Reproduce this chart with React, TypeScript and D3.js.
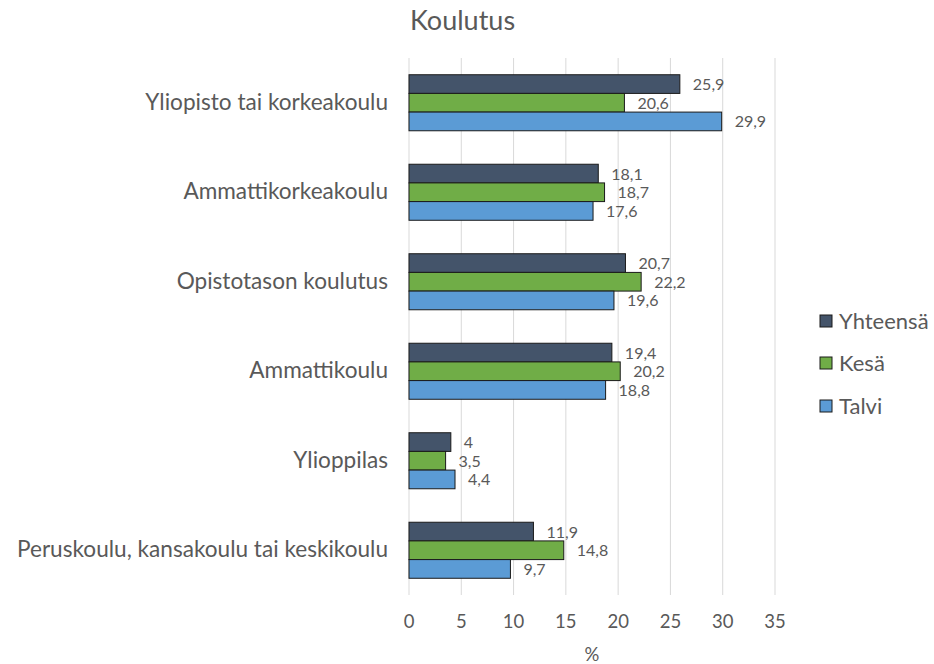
import React from "react";
import * as d3 from "d3";

const categories = [
  "Yliopisto tai korkeakoulu",
  "Ammattikorkeakoulu",
  "Opistotason koulutus",
  "Ammattikoulu",
  "Ylioppilas",
  "Peruskoulu, kansakoulu tai keskikoulu",
];
const seriesNames = ["Yhteensä", "Kesä", "Talvi"];
const yhteensa = [25.9, 18.1, 20.7, 19.4, 4, 11.9];
const kesa = [20.6, 18.7, 22.2, 20.2, 3.5, 14.8];
const talvi = [29.9, 17.6, 19.6, 18.8, 4.4, 9.7];
const xTicks = [0, 5, 10, 15, 20, 25, 30, 35];
const colors = ["#44546A", "#70AD47", "#5B9BD5"];

const W = 934;
const H = 664;
const FONT = "Lato, 'Open Sans', sans-serif";
const TXT = "#595959";

export default function App() {
  const values = [yhteensa, kesa, talvi];
  const x = d3.scaleLinear().domain([0, 35]).range([409, 775]);
  const y = d3.scaleBand<string>().domain(categories).range([58, 595]).paddingInner(0.374).paddingOuter(0.187);
  const inner = d3.scaleBand<string>().domain(seriesNames).range([0, y.bandwidth()]);
  const fmt = (v: number) => String(v).replace(".", ",");

  return (
    <svg width={W} height={H} style={{ position: "absolute", left: 0, top: 0, background: "#fff" }} fontFamily={FONT}>
      <text x={410} y={30} fontSize={27} fill={TXT}>Koulutus</text>
      {xTicks.map((t) => (
        <g key={t}>
          <line x1={x(t)} x2={x(t)} y1={58} y2={595} stroke="#D9D9D9" strokeWidth={1} />
          <text x={x(t)} y={628} textAnchor="middle" fontSize={18.5} fill={TXT}>{t}</text>
        </g>
      ))}
      <text x={x(17.5)} y={661} textAnchor="middle" fontSize={18.5} fill={TXT}>%</text>
      {categories.map((c, i) => (
        <g key={c}>
          <text x={388} y={(y(c) ?? 0) + y.bandwidth() / 2 + 7} textAnchor="end" fontSize={22.6} fill={TXT}>{c}</text>
          {seriesNames.map((s, j) => {
            const v = values[j][i];
            const by = (y(c) ?? 0) + (inner(s) ?? 0);
            return (
              <g key={s}>
                <rect x={x(0)} y={by} width={x(v) - x(0)} height={inner.bandwidth()} fill={colors[j]} stroke="#1a1a1a" strokeWidth={1} />
                <text x={x(v) + 13} y={by + inner.bandwidth() / 2 + 6} fontSize={16} fill={TXT}>{fmt(v)}</text>
              </g>
            );
          })}
        </g>
      ))}
      {seriesNames.map((s, j) => {
        const ly = [321, 363, 406][j];
        return (
          <g key={s}>
            <rect x={820} y={ly - 6} width={12} height={12} fill={colors[j]} stroke="#1a1a1a" strokeWidth={1} />
            <text x={839} y={ly + 8} fontSize={22} fill={TXT}>{s}</text>
          </g>
        );
      })}
    </svg>
  );
}
